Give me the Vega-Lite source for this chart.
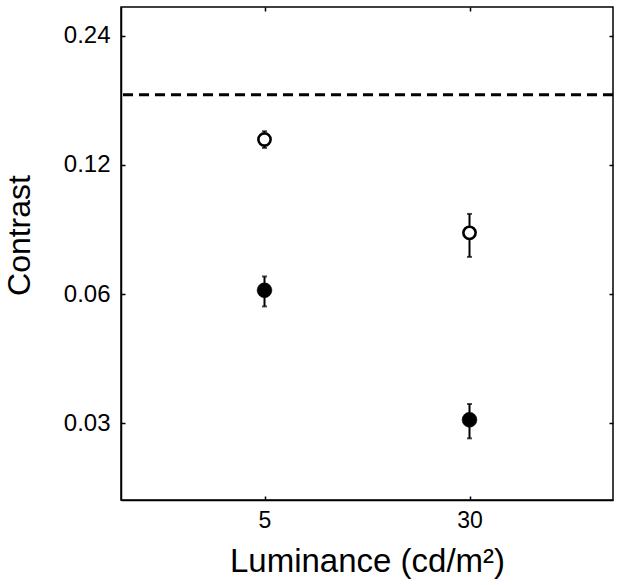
{
  "$schema": "https://vega.github.io/schema/vega-lite/v6.json",
  "autosize": "none",
  "width": 492,
  "height": 493,
  "padding": {"left": 121, "top": 7, "right": 9, "bottom": 85},
  "background": "white",
  "config": {
    "view": {"stroke": "black", "strokeWidth": 1.5},
    "font": "Liberation Sans",
    "axis": {
      "domainColor": "black", "domainWidth": 1.5, "tickColor": "black", "tickWidth": 1.5,
      "tickSize": -4, "grid": false, "labelColor": "black", "titleColor": "black",
      "labelFont": "Liberation Sans", "titleFont": "Liberation Sans",
      "labelFontSize": 24, "titleFontSize": 33, "titleFontWeight": "normal"
    }
  },
  "data": {"values": [
    {"lum": 5, "cond": "open", "c": 0.1376, "lo": 0.1315, "hi": 0.1438},
    {"lum": 30, "cond": "open", "c": 0.0834, "lo": 0.0733, "hi": 0.0923},
    {"lum": 5, "cond": "filled", "c": 0.0613, "lo": 0.0562, "hi": 0.0660},
    {"lum": 30, "cond": "filled", "c": 0.0306, "lo": 0.0277, "hi": 0.0333}
  ]},
  "resolve": {"axis": {"x": "independent", "y": "independent"}},
  "layer": [
    {
      "mark": {"type": "rule", "color": "black", "strokeWidth": 2},
      "encoding": {
        "x": {"field": "lum", "type": "ordinal", "scale": {"type": "point", "padding": 0.7},
              "axis": {"orient": "bottom", "title": "Luminance (cd/m²)", "labelAngle": 0, "labelFontSize": 23, "titleFontSize": 33, "labelPadding": 13, "titlePadding": 13}},
        "y": {"field": "lo", "type": "quantitative", "scale": {"type": "log", "domain": [0.0199, 0.28], "nice": false, "zero": false},
              "axis": {"orient": "left", "title": "Contrast", "values": [0.03, 0.06, 0.12, 0.24], "format": ".2f", "labelFontSize": 24, "titleFontSize": 32, "labelPadding": 15, "titlePadding": 27, "titleY": 228}},
        "y2": {"field": "hi"}
      }
    },
    {
      "mark": {"type": "tick", "color": "black", "size": 5, "thickness": 2},
      "encoding": {
        "x": {"field": "lum", "type": "ordinal", "axis": null},
        "y": {"field": "lo", "type": "quantitative", "axis": null}
      }
    },
    {
      "mark": {"type": "tick", "color": "black", "size": 5, "thickness": 2},
      "encoding": {
        "x": {"field": "lum", "type": "ordinal", "axis": null},
        "y": {"field": "hi", "type": "quantitative", "axis": null}
      }
    },
    {
      "mark": {"type": "point", "shape": "circle", "filled": false, "stroke": "black", "opacity": 1},
      "encoding": {
        "x": {"field": "lum", "type": "ordinal", "axis": null},
        "y": {"field": "c", "type": "quantitative", "axis": null},
        "fill": {"field": "cond", "type": "nominal", "scale": {"domain": ["open", "filled"], "range": ["white", "black"]}, "legend": null},
        "size": {"field": "cond", "type": "nominal", "scale": {"domain": ["open", "filled"], "range": [150, 220]}, "legend": null},
        "strokeWidth": {"field": "cond", "type": "nominal", "scale": {"domain": ["open", "filled"], "range": [2.6, 0.5]}, "legend": null}
      }
    },
    {
      "data": {"values": [{"thr": 0.175}]},
      "mark": {"type": "rule", "color": "black", "strokeWidth": 3, "strokeDash": [10, 6]},
      "encoding": {
        "y": {"field": "thr", "type": "quantitative", "axis": null}
      }
    },
    {
      "mark": {"type": "point", "opacity": 0},
      "encoding": {
        "x": {"field": "lum", "type": "ordinal", "axis": {"orient": "top", "labels": false, "title": null, "domain": false}},
        "y": {"field": "c", "type": "quantitative", "axis": {"orient": "right", "labels": false, "title": null, "domain": false, "values": [0.03, 0.06, 0.12, 0.24]}}
      }
    }
  ]
}
